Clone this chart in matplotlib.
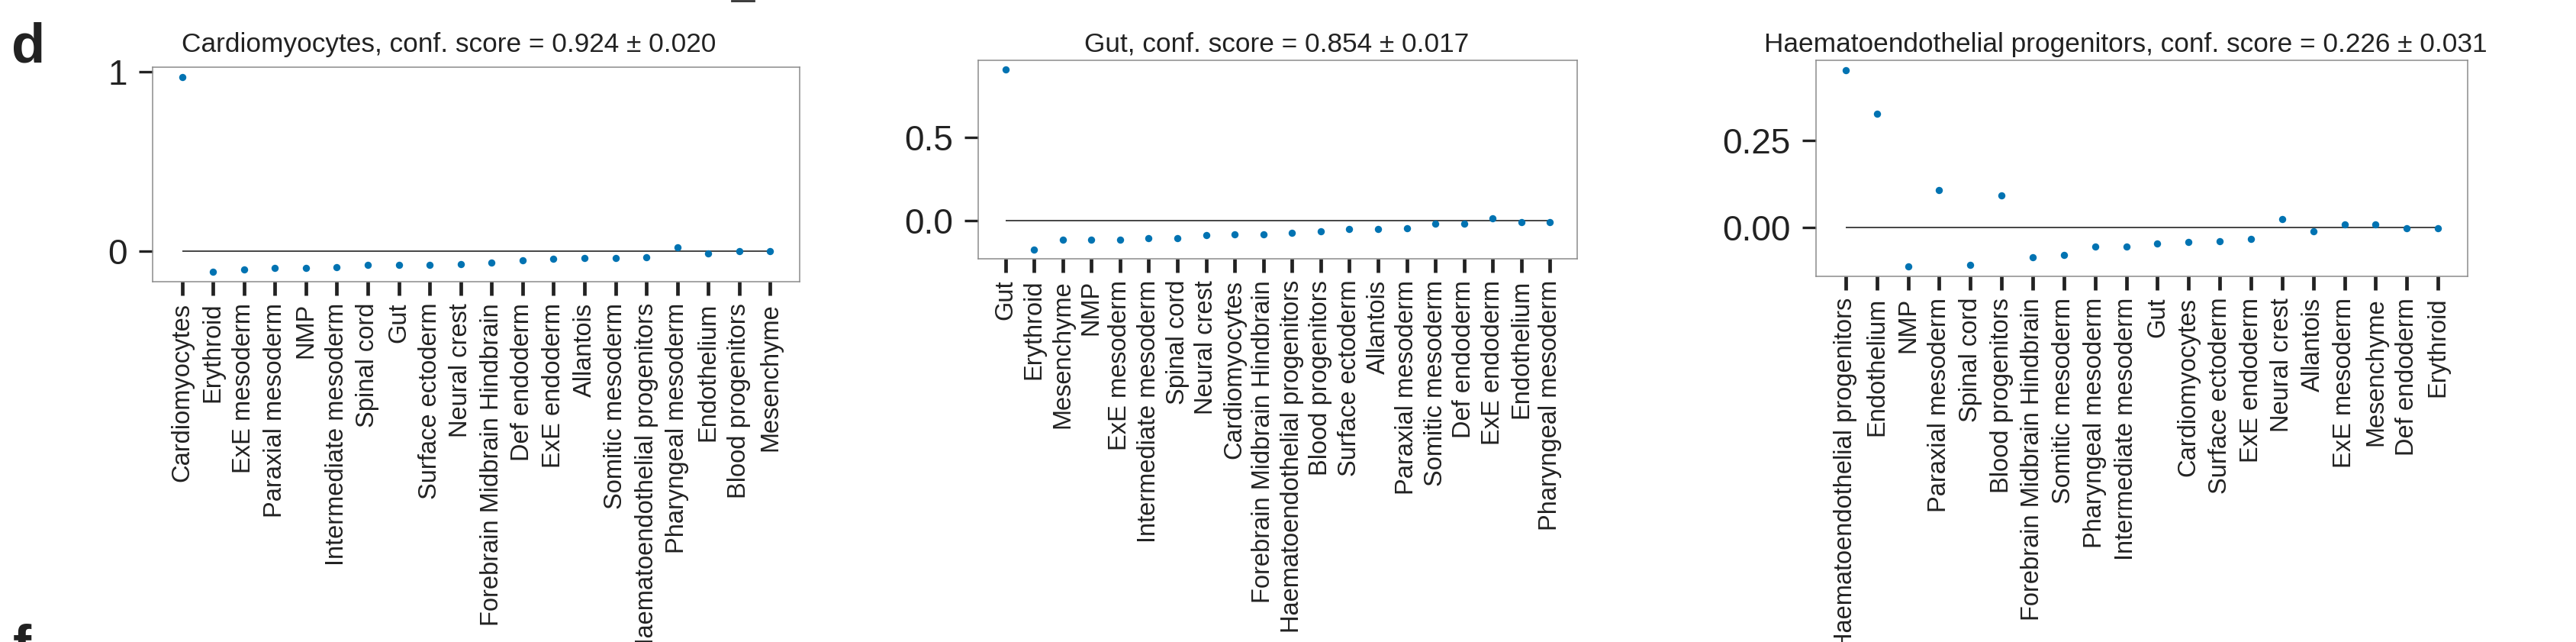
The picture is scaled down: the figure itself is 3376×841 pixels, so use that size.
import matplotlib
matplotlib.use("Agg")
import matplotlib.pyplot as plt
from matplotlib.lines import Line2D

plt.rcParams['font.family'] = ['Liberation Sans', 'DejaVu Sans']

# ---------------- data ----------------
cardio_labels = ["Cardiomyocytes", "Erythroid", "ExE mesoderm", "Paraxial mesoderm", "NMP",
                 "Intermediate mesoderm", "Spinal cord", "Gut", "Surface ectoderm", "Neural crest",
                 "Forebrain Midbrain Hindbrain", "Def endoderm", "ExE endoderm", "Allantois",
                 "Somitic mesoderm", "Haematoendothelial progenitors", "Pharyngeal mesoderm",
                 "Endothelium", "Blood progenitors", "Mesenchyme"]
cardio_values = [0.973, -0.117, -0.104, -0.096, -0.093, -0.089, -0.077, -0.077, -0.076, -0.073,
                 -0.066, -0.053, -0.044, -0.041, -0.040, -0.034, 0.021, -0.014, -0.001, 0.000]
cardio_title = "Cardiomyocytes, conf. score = 0.924 \u00b1 0.020"

gut_labels = ["Gut", "Erythroid", "Mesenchyme", "NMP", "ExE mesoderm", "Intermediate mesoderm",
              "Spinal cord", "Neural crest", "Cardiomyocytes", "Forebrain Midbrain Hindbrain",
              "Haematoendothelial progenitors", "Blood progenitors", "Surface ectoderm", "Allantois",
              "Paraxial mesoderm", "Somitic mesoderm", "Def endoderm", "ExE endoderm", "Endothelium",
              "Pharyngeal mesoderm"]
gut_values = [0.911, -0.175, -0.116, -0.115, -0.113, -0.106, -0.104, -0.089, -0.082, -0.081,
              -0.075, -0.062, -0.050, -0.048, -0.047, -0.020, -0.020, 0.012, -0.008, -0.008]
gut_title = "Gut, conf. score = 0.854 \u00b1 0.017"

haem_labels = ["Haematoendothelial progenitors", "Endothelium", "NMP", "Paraxial mesoderm",
               "Spinal cord", "Blood progenitors", "Forebrain Midbrain Hindbrain", "Somitic mesoderm",
               "Pharyngeal mesoderm", "Intermediate mesoderm", "Gut", "Cardiomyocytes",
               "Surface ectoderm", "ExE endoderm", "Neural crest", "Allantois", "ExE mesoderm",
               "Mesenchyme", "Def endoderm", "Erythroid"]
haem_values = [0.453, 0.328, -0.112, 0.108, -0.107, 0.093, -0.086, -0.078, -0.055, -0.054,
               -0.046, -0.041, -0.040, -0.033, 0.024, -0.011, 0.009, 0.008, -0.001, -0.0015]
haem_title = "Haematoendothelial progenitors, conf. score = 0.226 \u00b1 0.031"

cardio_yticks = [0, 1]
cardio_yticklabels = ["0", "1"]
gut_yticks = [0.0, 0.5]
gut_yticklabels = ["0.0", "0.5"]
haem_yticks = [0.0, 0.25]
haem_yticklabels = ["0.00", "0.25"]

# ---------------- layout ----------------
W, H = 3376, 841
fig = plt.figure(figsize=(W / 100, H / 100), dpi=100)

DOT = "#0173B2"
TXT = "#222222"

panels = [
    (cardio_labels, cardio_values, cardio_title, cardio_yticks, cardio_yticklabels,
     (200, 88, 1048, 369), 588),
    (gut_labels, gut_values, gut_title, gut_yticks, gut_yticklabels,
     (1282, 79, 2067, 339), 1673),
    (haem_labels, haem_values, haem_title, haem_yticks, haem_yticklabels,
     (2380, 79, 3234, 362), 2786),
]

for labels, values, title, yt, ytl, (x0, y0, x1, y1), tcx in panels:
    ax = fig.add_axes([x0 / W, 1 - y1 / H, (x1 - x0) / W, (y1 - y0) / H])
    xs = list(range(len(labels)))
    ax.scatter(xs, values, s=46, color=DOT, linewidths=0, zorder=3)
    ax.hlines(0, xs[0], xs[-1], color="#444444", lw=1.4, zorder=2)
    ax.set_xticks(xs)
    ax.set_xticklabels(labels, rotation=90, fontsize=23.5, color=TXT)
    ax.set_yticks(yt)
    ax.set_yticklabels(ytl, fontsize=33, color=TXT)
    ax.tick_params(axis='x', length=13, width=3.4, color=TXT, pad=7)
    ax.tick_params(axis='y', length=13, width=2.4, color=TXT, pad=11)
    for sp in ax.spines.values():
        sp.set_color("#8c8c8c")
        sp.set_linewidth(1.1)
    fig.text(tcx / W, 1 - 68 / H, title, ha='center', va='baseline',
             fontsize=25.4, color=TXT)

# panel letters
fig.text(15 / W, 1 - 82 / H, "d", fontsize=52, fontweight='bold', color=TXT,
         ha='left', va='baseline')
fig.text(17 / W, 1 - 870 / H, "f", fontsize=52, fontweight='bold', color=TXT,
         ha='left', va='baseline')
# small residual mark at the top edge
fig.add_artist(Line2D([959 / W, 988 / W], [1 - 1 / H, 1 - 1 / H], transform=fig.transFigure,
                      color="#333333", lw=2))

fig.savefig("out.png", dpi=100)
